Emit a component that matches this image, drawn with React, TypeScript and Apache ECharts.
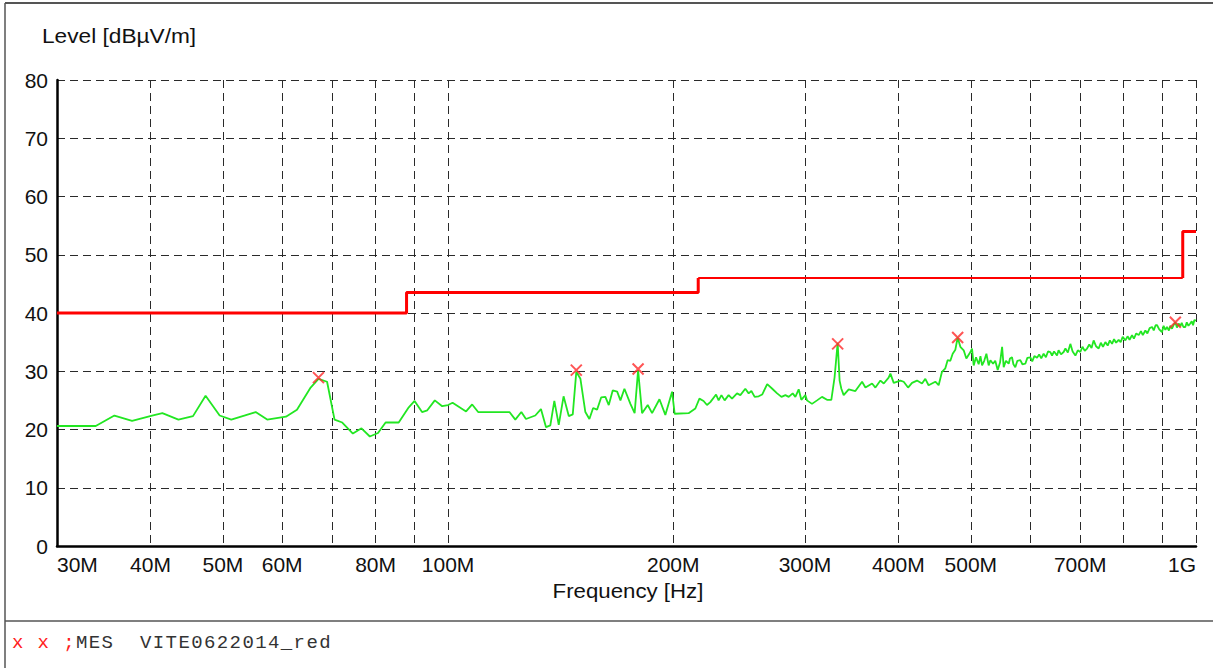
import React, { useEffect, useRef } from 'react';
import * as echarts from 'echarts';

// Measured trace: frequency in MHz, level in dBµV/m
const freqMHz = [
  30, 33.8, 35.8, 37.8, 40.2, 41.5, 43.6, 45.6, 47.4, 49.5, 51.3, 55.3, 57.3, 60.7, 62.8, 65.5, 67.1, 68.9,
  70.5, 72.2, 74.6, 76.6, 78.6, 80.6, 82.5, 85.9, 88.6, 90.2, 92.3, 93.8, 96.0, 98.2, 100.0, 101.4, 105.7,
  107.7, 109.7, 120.8, 123.0, 125.3, 127.1, 130.8, 133.1, 135.2, 137.0, 138.7, 140.6, 142.7, 145.0, 146.8,
  148.4, 150.3, 152.6, 154.5, 156.3, 158.2, 160.2, 162.3, 164.0, 166.0, 168.3, 170.0, 172.1, 175.3, 177.6,
  179.5, 181.7, 184.9, 187.4, 191.7, 195.2, 199.3, 200.9, 209.7, 214.1, 216.8, 219.6, 221.9, 224.2, 228.2,
  230.0, 232.0, 234.3, 237.2, 239.7, 243.4, 245.9, 249.7, 252.3, 254.4, 257.0, 260.2, 263.0, 267.1, 271.3,
  275.4, 279.1, 282.5, 285.4, 288.9, 291.3, 294.3, 296.7, 300.4, 301.9, 306.6, 311.4, 316.2, 321.1, 325.4,
  328.7, 331.8, 333.8, 335.6, 338.0, 343.3, 350.4, 357.7, 361.4, 368.9, 372.7, 378.5, 382.4, 388.2, 390.3,
  394.3, 402.5, 406.6, 412.1, 417.2, 423.6, 430.2, 434.6, 439.0, 448.2, 452.8, 457.5, 462.2, 465.5, 469.4,
  472.8, 476.7, 480.1, 484.1, 489.1, 493.1, 499.3, 501.8, 504.4, 508, 512.2, 515, 517.6, 521, 524.5, 528.2,
  531, 535.4, 539, 543.1, 547, 550.5, 553.2, 557, 561.8, 564, 567.5, 570, 573.3, 577, 582.2, 586, 591.3,
  595, 600.5, 604, 608, 613.0, 617, 621, 625.6, 630, 634, 638.6, 642, 646, 651.9, 655, 660, 665.3, 669,
  674, 679.2, 684, 689.8, 695, 700.4, 705, 710, 715.0, 720, 725, 729.7, 735, 741.1, 746, 751, 756.5, 762,
  767, 772.3, 777, 782, 788.1, 793, 798, 804.6, 810, 815, 821.3, 826, 832, 838.3, 844, 849, 855.6, 861,
  867, 873.6, 878, 883, 887.1, 893, 900.6, 905, 910, 914.6, 920, 924, 928.8, 933, 938.3, 943, 948, 952.8,
  957, 962, 967.6, 972, 977, 982.5, 987, 991, 995, 1000
];
const levelDb = [
  20.6, 20.6, 22.4, 21.5, 22.4, 22.8, 21.7, 22.3, 25.8, 22.4, 21.7, 23.0, 21.7, 22.2, 23.4, 27.2, 28.7, 28.2,
  21.7, 21.2, 19.3, 20.2, 18.8, 19.4, 21.2, 21.2, 23.8, 24.9, 23.0, 23.3, 25.0, 24.0, 24.2, 24.6, 23.1,
  24.3, 23.0, 23.0, 21.7, 23.0, 21.8, 22.4, 23.5, 20.4, 20.7, 24.9, 20.8, 25.7, 22.3, 22.6,
  29.9, 28.7, 23.0, 21.8, 23.7, 23.4, 25.5, 25.6, 24.2, 26.7, 26.5, 25.0, 27.0, 24.4, 22.8,
  30.2, 22.8, 24.2, 22.8, 25.2, 22.5, 26.5, 22.7, 22.8, 23.6, 25.3, 24.9, 24.2, 24.7, 26.0,
  25.0, 25.9, 25.0, 25.9, 25.3, 26.2, 25.9, 27.0, 26.2, 26.6, 25.6, 25.7, 26.0, 27.8, 27.0,
  26.2, 25.6, 25.9, 25.6, 26.2, 25.6, 26.9, 25.1, 25.9, 25.0, 24.4, 25.0, 25.6, 25.1, 25.1,
  29.0, 34.9, 28.4, 27.0, 25.9, 26.9, 26.6, 28.2, 27.2, 27.9, 27.2, 28.4, 27.9, 28.9, 29.6,
  28.0, 28.4, 28.2, 27.2, 28.0, 28.4, 27.9, 28.7, 27.6, 28.2, 27.6, 29.9, 30.5, 31.9, 31.8,
  33.0, 33.7, 35.8, 34.2, 33.6, 32.2, 33.3, 33.9, 31.0, 32.4, 31.2, 32.6, 31.0, 31.8, 33.0, 31.0,
  31.9, 31.3, 31.8, 30.2, 31.5, 34.2, 30.7, 31.8, 31.3, 32.2, 32.4, 31.2, 30.7, 31.8, 31.9, 31.2, 31.3,
  32.3, 32.4, 31.7, 32.6, 32.3, 32.9, 32.2, 33.0, 32.4, 33.4, 33.3, 32.7, 33.4, 32.7, 33.6, 32.9, 33.3, 33.9,
  33.2, 34.7, 33.4, 32.7, 33.6, 33.3, 34.2, 33.5, 33.9, 34.6, 34.0, 35.3, 34.3, 33.9, 34.9, 34.2, 35.0, 34.4,
  35.3, 34.7, 35.5, 34.9, 35.4, 35.0, 35.9, 35.3, 36.0, 35.4, 36.2, 35.6, 36.5, 36.2, 36.9, 36.2, 37.0, 36.5,
  37.4, 37.6, 37.0, 37.9, 37.9, 37.2, 36.7, 37.8, 37.1, 37.6, 37.0, 37.8, 37.3, 37.9, 38.4, 37.5, 38.2, 37.7,
  38.3, 37.6, 37.6, 38.4, 37.8, 38.2, 38.6, 37.9, 38.8, 38.7
];

// Marked peaks ("x" markers)
const peakFreq = [67.1, 148.4, 179.5, 331.8, 480.1, 938.3];
const peakLevel = [28.9, 30.2, 30.4, 34.7, 35.8, 38.4];

// Limit line (step)
const limitAFreq = [30, 88, 88, 216, 216];
const limitALevel = [40, 40, 43.5, 43.5, 46];
const limitBFreq = [216, 960];
const limitBLevel = [46, 46];
const limitCFreq = [960, 960, 1000];
const limitCLevel = [46, 54, 54];

const xLabelValues = [30, 40, 50, 60, 80, 100, 200, 300, 400, 500, 700, 1000];
const xGridValues = [30, 40, 50, 60, 70, 80, 90, 100, 200, 300, 400, 500, 600, 700, 800, 900, 1000];
const yMin = 0;
const yMax = 80;
const yStep = 10;

const yTitle = 'Level [dBµV/m]';
const xTitle = 'Frequency [Hz]';
const legendText = 'x x ;MES  VITE0622014_red';

const zip = (a: number[], b: number[]) => a.map((v, i) => [v, b[i]]);

export default function App() {
  const ref = useRef<HTMLDivElement>(null);
  useEffect(() => {
    if (!ref.current) return;
    const chart = echarts.init(ref.current, undefined, { renderer: 'svg' });
    const font = '"Liberation Sans", Arial, sans-serif';
    const dash = { type: [8, 5] as any, color: '#2a2a2a', width: 1 };

    const legendEls = legendText.split('').map((ch, i) => ({
      type: 'text',
      x: 12 + i * 12.8,
      y: 643,
      style: {
        text: ch,
        fill: i < 5 ? '#ff2020' : '#333',
        font: '19px "Liberation Mono", "Courier New", monospace',
        textVerticalAlign: 'middle',
      },
    }));

    chart.setOption({
      animation: false,
      backgroundColor: '#fff',
      grid: { left: 57, top: 80, right: 17, bottom: 122, containLabel: false },
      xAxis: {
        type: 'log',
        logBase: 10,
        min: 30,
        max: 1000,
        axisLine: { show: true, lineStyle: { color: '#000', width: 2.5 } },
        axisTick: { show: false, customValues: xGridValues },
        axisLabel: {
          customValues: xLabelValues,
          formatter: (v: number) => (v >= 1000 ? '1G' : Math.round(v) + 'M'),
          color: '#111',
          fontSize: 21,
          fontFamily: font,
          margin: 8,
          alignMinLabel: 'left',
          alignMaxLabel: 'right',
        },
        splitLine: { show: true, lineStyle: dash },
        minorSplitLine: { show: false },
      },
      yAxis: {
        type: 'value',
        min: yMin,
        max: yMax,
        interval: yStep,
        axisLine: { show: true, lineStyle: { color: '#000', width: 2.5 } },
        axisTick: { show: false },
        axisLabel: { color: '#111', fontSize: 21, fontFamily: font, margin: 9 },
        splitLine: { show: true, lineStyle: dash },
      },
      graphic: [
        { type: 'line', shape: { x1: 5, y1: 3, x2: 1213, y2: 3 }, style: { stroke: '#555', lineWidth: 2 } },
        { type: 'line', shape: { x1: 5, y1: 3, x2: 5, y2: 668 }, style: { stroke: '#555', lineWidth: 1.5 } },
        { type: 'line', shape: { x1: 5, y1: 621, x2: 1213, y2: 621 }, style: { stroke: '#555', lineWidth: 1.5 } },
        {
          type: 'text',
          x: 42,
          y: 36,
          scaleX: 1.08,
          style: { text: yTitle, font: '21px ' + font, fill: '#111', textVerticalAlign: 'middle' },
        },
        {
          type: 'text',
          x: 628,
          y: 591,
          scaleX: 1.06,
          style: {
            text: xTitle,
            font: '21px ' + font,
            fill: '#111',
            textAlign: 'center',
            textVerticalAlign: 'middle',
          },
        },
        ...legendEls,
      ],
      series: [
        {
          type: 'line',
          data: zip(freqMHz, levelDb),
          showSymbol: false,
          symbol: 'none',
          lineStyle: { color: '#22e622', width: 1.8 },
          z: 3,
        },
        {
          type: 'line',
          data: zip(limitAFreq, limitALevel),
          showSymbol: false,
          symbol: 'none',
          lineStyle: { color: '#ff0000', width: 3 },
          z: 4,
        },
        {
          type: 'line',
          data: zip(limitBFreq, limitBLevel),
          showSymbol: false,
          symbol: 'none',
          lineStyle: { color: '#ff0000', width: 2 },
          z: 4,
        },
        {
          type: 'line',
          data: zip(limitCFreq, limitCLevel),
          showSymbol: false,
          symbol: 'none',
          lineStyle: { color: '#ff0000', width: 3 },
          z: 4,
        },
        {
          type: 'scatter',
          data: zip(peakFreq, peakLevel),
          symbol: 'path://M0,0L10,10M10,0L0,10',
          symbolSize: 11,
          itemStyle: { color: 'none', borderColor: '#ff2a2a', borderWidth: 2 },
          z: 5,
        },
      ],
    });
    return () => chart.dispose();
  }, []);
  return (
    <div
      ref={ref}
      style={{ position: 'absolute', left: 0, top: 0, width: 1213, height: 668, background: '#fff' }}
    />
  );
}
